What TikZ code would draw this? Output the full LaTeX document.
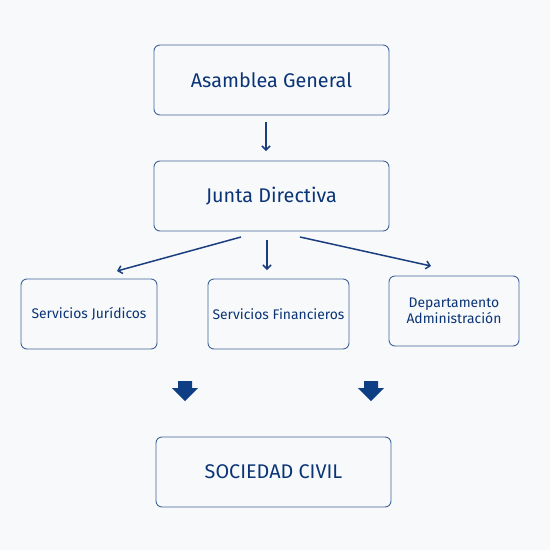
\documentclass[tikz,border=0pt]{standalone}
\usepackage{fontspec}
\setmainfont{Fira Sans}
\usetikzlibrary{arrows.meta}
\definecolor{bg}{HTML}{F8F9FA}
\definecolor{boxline}{HTML}{3F659C}
\definecolor{txt}{HTML}{0B3477}
\definecolor{arr}{HTML}{1B3F7E}
\definecolor{blockarr}{HTML}{0E3F85}
\tikzset{
  box/.style={draw=boxline, line width=0.9pt, rounded corners=6pt, fill=bg, text=txt, align=center, inner sep=0pt},
  big/.style={font=\fontsize{19.8}{22}\selectfont},
  small/.style={font=\fontsize{13.9}{16}\selectfont},
  conn/.style={draw=arr, line width=1.5pt, -{Straight Barb[length=4pt,width=8pt]}},
  blk/.style={fill=blockarr, draw=none}
}
\begin{document}
\begin{tikzpicture}[x=1pt,y=-1pt]
\fill[bg] (0,0) rectangle (550,550);
\useasboundingbox (0,0) rectangle (550,550);
\node[box, big, minimum width=235pt, minimum height=70pt] (ag) at (271.5,80) {Asamblea General};
\node[box, big, minimum width=235pt, minimum height=70pt] (jd) at (271.5,196) {Junta Directiva};
\node[box, small, minimum width=136pt, minimum height=70pt] (sj) at (89,314) {Servicios Jurídicos};
\node[box, small, minimum width=141pt, minimum height=70pt] (sf) at (278.5,314) {Servicios Financieros};
\node[box, small, minimum width=130pt, minimum height=70pt] (da) at (454,311) {Departamento\\Administración};
\node[box, big, minimum width=235pt, minimum height=70pt] (sc) at (273.5,472) {SOCIEDAD CIVIL};
\coordinate (a1s) at (266,122); \coordinate (a1e) at (266,151);
\draw[conn] (a1s) -- (a1e);
\coordinate (l1s) at (241,237); \coordinate (l1e) at (117,271);
\draw[conn] (l1s) -- (l1e);
\coordinate (m1s) at (267,240); \coordinate (m1e) at (267,270);
\draw[conn] (m1s) -- (m1e);
\coordinate (r1s) at (300,237); \coordinate (r1e) at (431,266);
\draw[conn] (r1s) -- (r1e);
\foreach \cx [count=\i] in {185,371}{
  \fill[blk] (\cx-7,381) -- (\cx+7,381) -- (\cx+7,388) -- (\cx+13,388) -- (\cx,401) -- (\cx-13,388) -- (\cx-7,388) -- cycle;
}
\end{tikzpicture}
\end{document}
